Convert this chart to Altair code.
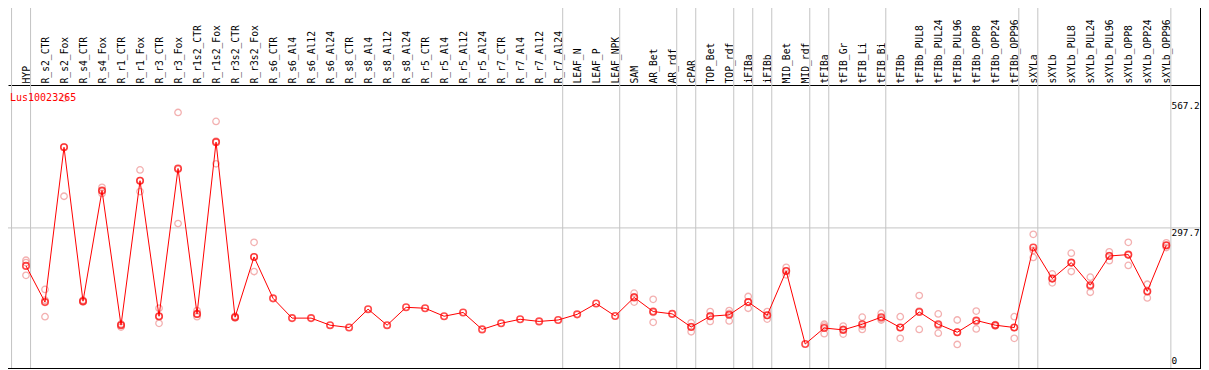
import altair as alt
import pandas as pd

categories = [
    "HYP", "R_s2_CTR", "R_s2_Fox", "R_s4_CTR", "R_s4_Fox", "R_r1_CTR", "R_r1_Fox",
    "R_r3_CTR", "R_r3_Fox", "R_r1s2_CTR", "R_r1s2_Fox", "R_r3s2_CTR", "R_r3s2_Fox",
    "R_s6_CTR", "R_s6_Al4", "R_s6_Al12", "R_s6_Al24", "R_s8_CTR", "R_s8_Al4",
    "R_s8_Al12", "R_s8_Al24", "R_r5_CTR", "R_r5_Al4", "R_r5_Al12", "R_r5_Al24",
    "R_r7_CTR", "R_r7_Al4", "R_r7_Al12", "R_r7_Al24", "LEAF_N", "LEAF_P", "LEAF_NPK",
    "SAM", "AR_Bet", "AR_rdf", "cPAR", "TOP_Bet", "TOP_rdf", "iFIBa", "iFIBb",
    "MID_Bet", "MID_rdf", "tFIBa", "tFIB_Gr", "tFIB_Li", "tFIB_Bi", "tFIBb",
    "tFIBb_PUL8", "tFIBb_PUL24", "tFIBb_PUL96", "tFIBb_OPP8", "tFIBb_OPP24",
    "tFIBb_OPP96", "sXYLa", "sXYLb", "sXYLb_PUL8", "sXYLb_PUL24", "sXYLb_PUL96",
    "sXYLb_OPP8", "sXYLb_OPP24", "sXYLb_OPP96",
]

means = [
    217, 140, 469, 142, 377, 91, 398, 110, 424, 115, 480, 108, 236,
    148, 106, 106, 91, 86, 125, 91, 129, 127, 110, 118, 82, 95, 103.5, 99, 102,
    114, 137, 110.5, 150, 120, 115, 87, 110, 113, 140, 112, 206, 51,
    85, 81, 93, 108, 86, 119, 93, 76, 101, 91, 86,
    256, 190, 224, 176, 238, 241, 163, 261,
]

rep_a = [
    229, 167, 573, 144, 384, 93, 421, 127, 543, 122, 524, 110, 267,
    None, None, None, None, None, None, None, None, None, None, None, None, None, None, None, None,
    None, None, None, 159, 146, None, 96, 120, 122, 152, 120, 214, None,
    93, 89, 108, 116, 109, 154, 115, 102, 121, 92, 109,
    284, 200, 244, 193, 247, 267, 178, 266,
]
rep_b = [
    224, 109, 365, 140, 371, 87, 375, 95, 307, 109, 434, 106, 205,
    None, None, None, None, None, None, None, None, None, None, None, None, None, None, None, None,
    None, None, None, 140, 97, None, 77, 99, 100, 127, 104, 198, None,
    73, 72, 82, 102, 63, 82, 74, 50, 83, 89, 63,
    235, 181, 205, 161, 228, 218, 149, 256,
]
rep_c = [
    197, 144, 470, 142, 376, 93, 398, 109, 422, 114, 482, 108, 236,
    None, None, None, None, None, None, None, None, None, None, None, None, None, None, None, None,
    None, None, None, 151, 118, None, 88, 111, 116, 140, 112, 206, None,
    89, 82, 89, 105, 86, 121, 90, 76, 99, 91, 86,
    250, 190, 224, 173, 239, 240, 162, 260,
]

group_ends = [-1, 0, 28, 31, 34, 35, 37, 38, 39, 41, 42, 45, 52, 53, 60]
y_grid = [297.7]
y_labels_top = ["567.2", "297.7"]
y_labels_bottom = ["0"]
gene_name = "Lus10023265"

FONT = "DejaVu Sans Mono"
W, H = 1193, 283
TOP = 77
STEP = 19.005      # pixels per category
X0 = 18.0          # pixel offset of first category inside the plot

mean_df = pd.DataFrame({"pos": list(range(len(categories))), "cat": categories, "mean": means})
rows = []
for arr in (rep_a, rep_b, rep_c):
    for i, v in enumerate(arr):
        if v is not None:
            rows.append({"pos": i, "val": v})
rep_df = pd.DataFrame(rows)
bound_df = pd.DataFrame({"pos": [e + 0.24 for e in group_ends]})
grid_df = pd.DataFrame({"v": y_grid})
ylab_top_df = pd.DataFrame({"lab": y_labels_top, "v": [float(s) for s in y_labels_top]})
ylab_bot_df = pd.DataFrame({"lab": y_labels_bottom, "v": [float(s) for s in y_labels_bottom]})

xscale = alt.Scale(domain=[-X0 / STEP, (W - X0) / STEP], nice=False, zero=False)
yscale = alt.Scale(domain=[0, 601.4], nice=False, zero=False)

names_js = "[" + ",".join("'" + c + "'" for c in categories) + "]"

top_axis = alt.Axis(
    orient="top",
    values=list(range(len(categories))),
    labelExpr=names_js + "[datum.value]",
    labelAngle=270,
    labelAlign="left",
    labelBaseline="middle",
    labelFont=FONT,
    labelFontSize=9.7,
    labelColor="#000000",
    labelPadding=2,
    labelOverlap=False,
    labelFlush=False,
    labelBound=False,
    ticks=False,
    grid=False,
    domain=True,
    domainColor="#000000",
    domainWidth=1,
    title=None,
)


def xenc():
    return alt.X("pos:Q", scale=xscale, axis=top_axis, title=None)


bounds = alt.Chart(bound_df).mark_rule(color="#c4c4c4", strokeWidth=1).encode(
    x=xenc(),
    y=alt.value(-TOP),
    y2=alt.value(H),
)

hgrid = alt.Chart(grid_df).mark_rule(color="#c4c4c4", strokeWidth=1).encode(
    y=alt.Y("v:Q", scale=yscale, axis=None),
    x=alt.value(0),
    x2=alt.value(W),
)

reps = alt.Chart(rep_df).mark_point(
    shape="circle", filled=False, size=42, strokeWidth=1.3, color="#ef9090"
).encode(
    x=xenc(),
    y=alt.Y("val:Q", scale=yscale, axis=None),
)

line = alt.Chart(mean_df).mark_line(color="#ff0000", strokeWidth=1).encode(
    x=xenc(),
    y=alt.Y("mean:Q", scale=yscale, axis=None),
)

pts = alt.Chart(mean_df).mark_point(
    shape="circle", filled=False, size=42, strokeWidth=1.6, color="#ff0000"
).encode(
    x=xenc(),
    y=alt.Y("mean:Q", scale=yscale, axis=None),
)

ylab_top = alt.Chart(ylab_top_df).mark_text(
    align="left", baseline="top", dy=1, font=FONT, fontSize=9.4, color="#000000"
).encode(
    x=alt.value(1163.5),
    y=alt.Y("v:Q", scale=yscale, axis=None),
    text="lab:N",
)

ylab_bot = alt.Chart(ylab_bot_df).mark_text(
    align="left", baseline="bottom", dy=-2, font=FONT, fontSize=9.4, color="#000000"
).encode(
    x=alt.value(1163.5),
    y=alt.Y("v:Q", scale=yscale, axis=None),
    text="lab:N",
)

title = alt.Chart(pd.DataFrame({"t": [gene_name]})).mark_text(
    align="left", baseline="top", font=FONT, fontSize=10, color="#ff0000"
).encode(
    x=alt.value(2),
    y=alt.value(8),
    text="t:N",
)

right_border = alt.Chart(pd.DataFrame({"k": [0]})).mark_rule(color="#000000", strokeWidth=1).encode(
    x=alt.value(W - 0.5),
    y=alt.value(-TOP),
    y2=alt.value(H + 0.5),
)
bottom_border = alt.Chart(pd.DataFrame({"k": [0]})).mark_rule(color="#000000", strokeWidth=1).encode(
    y=alt.value(H + 0.5),
    x=alt.value(0),
    x2=alt.value(W),
)

chart = alt.layer(
    bounds, hgrid, reps, line, pts, ylab_top, ylab_bot, title, right_border, bottom_border
).properties(
    width=W,
    height=H,
    padding={"left": 0, "top": TOP, "right": 0, "bottom": 1},
    autosize=alt.AutoSizeParams(type="none"),
    background="#ffffff",
).configure_view(stroke=None)

chart.save("out.html", embed_options={"renderer": "svg", "actions": False})
